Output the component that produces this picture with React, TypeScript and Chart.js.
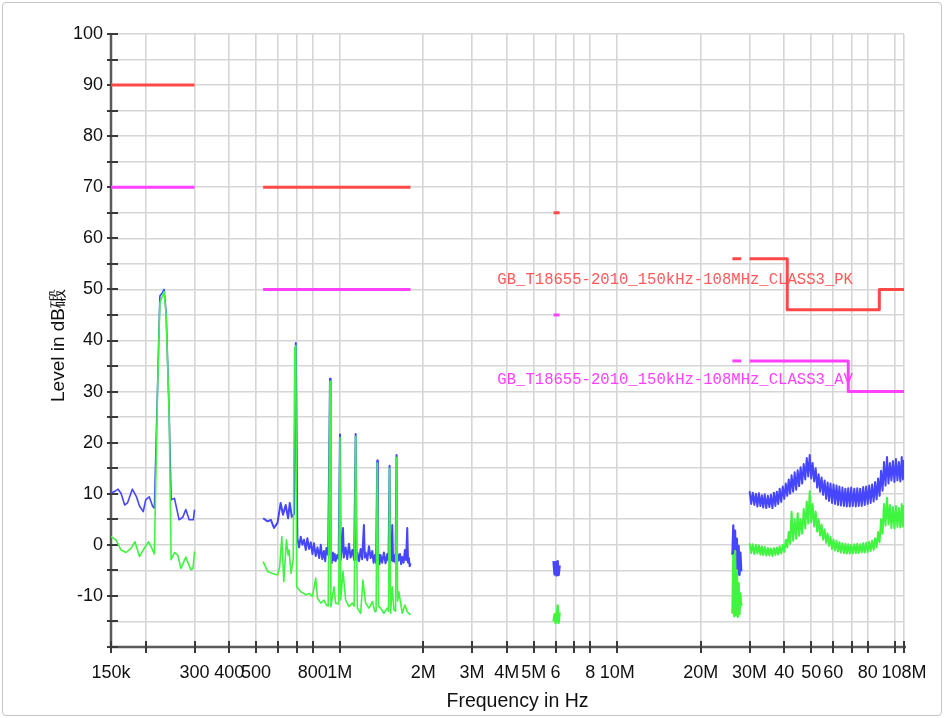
import React, { useEffect, useRef } from 'react';
import { Chart, registerables } from 'chart.js';

Chart.register(...registerables);

// ---------- axis ticks ----------
const X_TICKS_MHZ = [0.15, 0.2, 0.3, 0.4, 0.5, 0.6, 0.7, 0.8, 1, 2, 3, 4, 5, 6, 7, 8, 10, 20, 30, 40, 50, 60, 70, 80, 100, 108];
const X_TICK_LABELS = ['150k', '', '300', '400', '500', '', '', '800', '1M', '2M', '3M', '4M', '5M', '6', '', '8', '10M', '20M', '30M', '40', '50', '60', '', '80', '', '108M'];
const Y_MIN = -20;
const Y_MAX = 100;
const Y_STEP = 5;

// ---------- limit lines (MHz, dBµV) ----------
const PK_LIMIT_F = [[0.15, 0.3], [0.53, 1.8], [5.9, 6.2], [26, 28], [30, 41, 41, 88, 88, 108]];
const PK_LIMIT_V = [[90, 90], [70, 70], [65, 65], [56, 56], [56, 56, 46, 46, 50, 50]];
const AV_LIMIT_F = [[0.15, 0.3], [0.53, 1.8], [5.9, 6.2], [26, 28], [30, 68, 68, 108]];
const AV_LIMIT_V = [[70, 70], [50, 50], [45, 45], [36, 36], [36, 36, 30, 30]];
const PK_LIMIT_NAME = 'GB_T18655-2010_150kHz-108MHz_CLASS3_PK';
const AV_LIMIT_NAME = 'GB_T18655-2010_150kHz-108MHz_CLASS3_AV';

// ---------- measured traces ----------
// band 1 : 150 kHz - 300 kHz
const PEAK_F1 = [0.150, 0.156, 0.159, 0.163, 0.168, 0.172, 0.179, 0.185, 0.190, 0.196, 0.200, 0.206, 0.212, 0.215, 0.221, 0.225, 0.230, 0.233, 0.237, 0.243, 0.247, 0.254, 0.264, 0.272, 0.279, 0.287, 0.297, 0.300];
const PEAK_V1 = [10.1, 10.6, 10.9, 10.1, 7.8, 8.2, 10.9, 9.5, 7.6, 6.5, 8.8, 9.4, 7.5, 7.2, 32.0, 48.7, 49.4, 50.0, 45.5, 26.0, 8.8, 9.1, 4.9, 5.4, 6.9, 4.9, 4.9, 6.9];
const AVG_F1 = [0.150, 0.156, 0.163, 0.170, 0.177, 0.183, 0.190, 0.196, 0.205, 0.209, 0.215, 0.221, 0.225, 0.231, 0.233, 0.237, 0.243, 0.247, 0.254, 0.261, 0.268, 0.279, 0.291, 0.296, 0.300];
const AVG_V1 = [1.6, 1.0, -1.0, -1.5, -0.7, 0.6, -2.3, -1.0, 0.6, -0.3, -1.8, 31.5, 47.4, 49.0, 49.6, 45.0, 25.5, -2.9, -1.5, -2.0, -4.6, -2.4, -4.9, -4.6, -1.3];

// band 2 : 530 kHz - 1.8 MHz
const PEAK_F2 = [0.530, 0.550, 0.565, 0.580, 0.597, 0.613, 0.625, 0.639, 0.652, 0.661, 0.672, 0.685, 0.695, 0.704, 0.714, 0.724, 0.734, 0.744, 0.755, 0.765, 0.776, 0.787, 0.798, 0.808, 0.820, 0.832, 0.844, 0.855, 0.866, 0.878, 0.887, 0.896, 0.909, 0.923, 0.928, 0.936, 0.945, 0.954, 0.960, 0.967, 0.980, 0.992, 1.0025, 1.008, 1.017, 1.028, 1.035, 1.051, 1.065, 1.080, 1.095, 1.111, 1.128, 1.142, 1.150, 1.158, 1.175, 1.190, 1.205, 1.223, 1.232, 1.240, 1.258, 1.275, 1.293, 1.311, 1.325, 1.340, 1.353, 1.366, 1.373, 1.381, 1.392, 1.404, 1.423, 1.443, 1.463, 1.484, 1.500, 1.513, 1.520, 1.526, 1.537, 1.547, 1.557, 1.568, 1.590, 1.603, 1.610, 1.617, 1.634, 1.650, 1.665, 1.681, 1.700, 1.718, 1.735, 1.752, 1.764, 1.776, 1.788, 1.800];
const PEAK_V2 = [5.2, 4.6, 4.9, 3.3, 4.3, 8.2, 5.9, 7.8, 5.2, 8.2, 5.5, 6.0, 39.5, 1.3, -0.5, 1.6, 0.0, 1.0, -1.0, 1.3, -0.8, 0.5, -1.8, 0.3, -2.2, -0.5, -2.6, 0.0, -2.8, -1.2, -3.2, -0.6, -2.0, 32.5, -2.0, -3.6, -1.5, -3.0, -1.8, -3.2, -2.0, -2.8, 21.6, -3.0, -1.0, 3.3, -2.5, -0.5, -2.8, 0.2, -2.5, -1.0, -3.0, 21.7, -3.0, -1.5, -3.2, -0.8, -2.8, 3.9, -2.5, -1.5, -3.0, -0.3, -2.6, -1.2, -3.5, -2.0, -3.6, 16.5, -3.0, -1.8, -3.8, -2.0, -3.5, -1.5, -3.6, -1.8, -3.2, 15.5, -3.0, -1.5, -3.0, 3.9, -3.2, -2.0, -3.5, 17.6, -3.2, -1.8, -3.0, -1.8, -3.8, -2.4, -3.5, -1.0, -3.0, 3.3, -3.5, -2.6, -4.2, -3.6];
const AVG_F2 = [0.530, 0.550, 0.573, 0.597, 0.608, 0.619, 0.629, 0.643, 0.652, 0.657, 0.668, 0.680, 0.689, 0.695, 0.700, 0.724, 0.744, 0.755, 0.776, 0.798, 0.820, 0.832, 0.855, 0.878, 0.896, 0.909, 0.923, 0.930, 0.954, 0.967, 0.992, 1.0025, 1.0083, 1.028, 1.051, 1.080, 1.111, 1.128, 1.142, 1.158, 1.190, 1.213, 1.240, 1.275, 1.311, 1.340, 1.353, 1.366, 1.381, 1.404, 1.443, 1.484, 1.500, 1.513, 1.526, 1.547, 1.568, 1.590, 1.603, 1.617, 1.634, 1.681, 1.718, 1.752, 1.800];
const AVG_V2 = [-3.3, -5.2, -5.6, -5.9, -4.3, 1.6, -7.2, 1.0, -2.0, -1.0, -5.6, -3.0, 38.5, 39.0, -8.2, -9.2, -9.5, -9.8, -9.5, -10.1, -6.5, -10.5, -11.4, -10.8, -11.8, -12.0, 32.0, -12.1, -8.2, -11.4, -11.6, 21.0, -10.8, -5.2, -10.8, -12.1, -11.4, -12.0, 21.2, -12.4, -13.4, -6.9, -11.4, -12.4, -11.1, -13.1, -13.0, 16.0, -12.0, -12.4, -13.4, -12.4, -13.0, 15.0, -13.4, -8.2, -12.7, -13.0, 17.1, -11.0, -9.2, -13.4, -11.8, -13.1, -13.7];

// band 3 : 5.9 - 6.2 MHz
const F3 = [5.90, 5.95, 6.00, 6.05, 6.10, 6.15, 6.20];
const PEAK_V3 = [-3.2, -5.8, -3.4, -6.0, -3.2, -5.9, -4.0];
const AVG_V3 = [-15.0, -13.6, -15.3, -14.4, -11.9, -15.3, -13.2];

// band 4 : 26 - 28 MHz
const F4 = [26.0, 26.2, 26.4, 26.6, 26.8, 27.0, 27.2, 27.4, 27.6, 27.8, 28.0];
const PEAK_V4 = [-2.0, 3.8, -4.5, 2.8, -5.2, 1.2, -5.8, -0.2, -5.9, -1.5, -5.2];
const AVG_V4 = [-13.5, -2.0, -14.0, -1.2, -13.8, -5.0, -14.1, -7.5, -13.6, -9.5, -12.0];

// band 5 : 30 - 108 MHz
const F5 = [30, 30.4, 30.8, 31.2, 31.6, 32.0, 32.4, 32.8, 33.2, 33.6, 34.0, 34.45, 34.9, 35.35, 35.8, 36.25, 36.7, 37.15, 37.6, 38.05, 38.5, 39.0, 39.5, 40.0, 40.5, 41.0, 41.5, 42.0, 42.5, 43.05, 43.6, 44.15, 44.7, 45.25, 45.8, 46.4, 47.0, 47.6, 48.2, 48.8, 49.4, 50.0, 50.6, 51.25, 51.9, 52.55, 53.2, 53.85, 54.5, 55.2, 55.9, 56.6, 57.3, 58.0, 58.7, 59.45, 60.2, 60.95, 61.7, 62.45, 63.2, 64.0, 64.8, 65.6, 66.4, 67.2, 68.0, 68.85, 69.7, 70.6, 71.5, 72.4, 73.3, 74.2, 75.1, 76.05, 77.0, 77.95, 78.9, 79.9, 80.9, 81.9, 82.9, 83.95, 85.0, 86.05, 87.1, 88.2, 89.3, 90.4, 91.5, 92.65, 93.8, 94.95, 96.1, 97.3, 98.5, 99.75, 101.0, 102.25, 103.5, 104.75, 106.0, 107.0, 108.0];
const PEAK_V5 = [10.5, 8.0, 10.2, 7.8, 10.0, 7.5, 10.1, 7.6, 9.7, 7.3, 9.9, 7.2, 9.6, 7.4, 9.8, 7.2, 10.2, 7.6, 10.4, 8.0, 11.0, 8.4, 11.4, 9.0, 12.0, 9.6, 12.8, 10.0, 13.6, 10.4, 14.2, 10.8, 14.6, 11.5, 15.2, 12.0, 15.8, 12.8, 17.0, 13.4, 17.6, 13.0, 16.0, 12.4, 15.0, 11.2, 13.8, 10.4, 13.2, 9.8, 12.6, 9.0, 12.2, 8.6, 12.0, 8.2, 11.8, 8.0, 11.6, 7.8, 11.4, 7.7, 11.2, 7.6, 11.0, 7.5, 11.1, 7.5, 11.2, 7.6, 11.0, 7.5, 11.1, 7.6, 11.0, 7.6, 11.3, 7.8, 11.4, 8.0, 11.6, 8.2, 11.8, 8.5, 12.3, 8.9, 13.0, 9.6, 14.5, 10.6, 16.2, 11.6, 17.2, 12.0, 16.0, 12.6, 16.4, 12.3, 16.8, 12.6, 16.2, 12.4, 17.2, 12.8, 16.6];
const AVG_V5 = [0.3, -1.6, 0.1, -1.8, 0.0, -1.7, -0.1, -1.9, -0.3, -2.0, -0.4, -2.1, -0.6, -2.1, -0.7, -2.2, -0.6, -2.0, -0.5, -1.9, -0.3, -1.7, 0.0, -1.4, 1.0, -0.5, 2.5, 0.2, 6.5, 0.8, 5.0, 1.2, 6.2, 1.8, 5.0, 2.2, 7.0, 3.2, 8.5, 4.2, 10.5, 4.4, 8.0, 3.6, 6.5, 2.6, 5.0, 1.8, 4.0, 1.0, 3.0, 0.4, 2.2, -0.2, 1.6, -0.8, 1.0, -1.1, 0.8, -1.3, 0.5, -1.5, 0.3, -1.6, 0.2, -1.7, 0.1, -1.7, 0.0, -1.7, 0.1, -1.6, 0.2, -1.6, 0.1, -1.5, 0.3, -1.5, 0.4, -1.4, 0.6, -1.2, 0.8, -1.0, 1.3, -0.5, 2.5, 0.5, 5.0, 2.2, 8.0, 3.8, 9.2, 4.0, 7.8, 3.3, 7.4, 3.2, 7.6, 3.5, 7.2, 3.4, 8.0, 3.6, 7.8];

// annotation anchors (MHz, dBµV)
const LABEL_F = 3.7;
const PK_LABEL_V = 51.8;
const AV_LABEL_V = 32.2;

// ---------- styles ----------
const PEAK_COLOR = 'rgb(70,70,255)';
const AVG_COLOR = 'rgb(64,245,64)';
const PK_COLOR = 'rgb(255,72,72)';
const AV_COLOR = 'rgb(255,64,255)';
const GRID_COLOR = 'rgb(214,214,214)';
const SANS = '"Liberation Sans", Arial, sans-serif';

const pts = (f: number[], v: number[]) => f.map((x, i) => ({ x: x * 1e6, y: v[i] }));

const ds = (data: any[], color: string, width: number, order: number) => ({
  data,
  borderColor: color,
  backgroundColor: color,
  borderWidth: width,
  pointRadius: 0,
  tension: 0,
  fill: false,
  order,
  borderJoinStyle: 'round' as const,
  borderCapStyle: 'butt' as const,
});

const decor = {
  id: 'decor',
  beforeDatasetsDraw(chart: any) {
    const { ctx, chartArea, scales } = chart;
    const xs = scales.x;
    const ys = scales.y;
    ctx.save();
    ctx.strokeStyle = '#5a5a5a';
    ctx.lineWidth = 2.5;
    ctx.beginPath();
    ctx.moveTo(chartArea.left, chartArea.top - 1);
    ctx.lineTo(chartArea.left, chartArea.bottom);
    ctx.lineTo(chartArea.right + 2, chartArea.bottom);
    ctx.stroke();
    ctx.strokeStyle = '#3a3a3a';
    ctx.lineWidth = 2;
    ctx.beginPath();
    for (const t of ys.ticks) {
      const py = Math.round(ys.getPixelForValue(t.value));
      ctx.moveTo(chartArea.left - 4, py);
      ctx.lineTo(chartArea.left + 7, py);
    }
    for (const t of xs.ticks) {
      const px = Math.round(xs.getPixelForValue(t.value));
      ctx.moveTo(px, chartArea.bottom - 6);
      ctx.lineTo(px, chartArea.bottom + 6);
    }
    ctx.stroke();
    ctx.restore();
  },
  afterDatasetsDraw(chart: any) {
    const { ctx, chartArea, scales } = chart;
    const xs = scales.x;
    const ys = scales.y;
    ctx.save();
    ctx.font = '15.6px "Liberation Mono", monospace';
    ctx.textAlign = 'left';
    ctx.textBaseline = 'middle';
    const lx = xs.getPixelForValue(LABEL_F * 1e6);
    ctx.fillStyle = 'rgb(255,90,90)';
    ctx.fillText(PK_LIMIT_NAME, lx, ys.getPixelForValue(PK_LABEL_V));
    ctx.fillStyle = AV_COLOR;
    ctx.fillText(AV_LIMIT_NAME, lx, ys.getPixelForValue(AV_LABEL_V));

    ctx.fillStyle = '#111';
    ctx.font = '19.5px ' + SANS;
    ctx.textAlign = 'center';
    ctx.fillText('Frequency in Hz', (chartArea.left + chartArea.right) / 2 + 10, chartArea.bottom + 55);
    ctx.font = '19px ' + SANS;
    ctx.translate(59, (chartArea.top + chartArea.bottom) / 2 + 5);
    ctx.rotate(-Math.PI / 2);
    ctx.fillText('Level in dB碫', 0, 0);
    ctx.restore();
  },
};

export default function App() {
  const ref = useRef<HTMLCanvasElement | null>(null);

  useEffect(() => {
    if (!ref.current) return;
    const datasets: any[] = [];
    PK_LIMIT_F.forEach((f, i) => datasets.push(ds(pts(f, PK_LIMIT_V[i]), PK_COLOR, 3, 3)));
    AV_LIMIT_F.forEach((f, i) => datasets.push(ds(pts(f, AV_LIMIT_V[i]), AV_COLOR, 3, 3)));
    datasets.push(ds(pts(PEAK_F1, PEAK_V1), PEAK_COLOR, 1.6, 2));
    datasets.push(ds(pts(PEAK_F2, PEAK_V2), PEAK_COLOR, 2.0, 2));
    datasets.push(ds(pts(F3, PEAK_V3), PEAK_COLOR, 2.5, 2));
    datasets.push(ds(pts(F4, PEAK_V4), PEAK_COLOR, 2.2, 2));
    datasets.push(ds(pts(F5, PEAK_V5), PEAK_COLOR, 2.0, 2));
    datasets.push(ds(pts(AVG_F1, AVG_V1), AVG_COLOR, 1.6, 1));
    datasets.push(ds(pts(AVG_F2, AVG_V2), AVG_COLOR, 1.6, 1));
    datasets.push(ds(pts(F3, AVG_V3), AVG_COLOR, 2.5, 1));
    datasets.push(ds(pts(F4, AVG_V4), AVG_COLOR, 2.2, 1));
    datasets.push(ds(pts(F5, AVG_V5), AVG_COLOR, 2.0, 1));

    const chart = new Chart(ref.current, {
      type: 'line',
      data: { datasets },
      plugins: [decor],
      options: {
        animation: false,
        responsive: false,
        devicePixelRatio: 1,
        layout: { padding: { top: 34, right: 40, left: 0, bottom: 0 } },
        plugins: { legend: { display: false }, tooltip: { enabled: false }, title: { display: false } },
        scales: {
          x: {
            type: 'logarithmic',
            min: 150e3,
            max: 108e6,
            afterBuildTicks: (s: any) => {
              s.ticks = X_TICKS_MHZ.map((v) => ({ value: v * 1e6 }));
            },
            afterFit: (s: any) => {
              s.height = 71;
            },
            grid: { color: GRID_COLOR, lineWidth: 1.6, drawTicks: false },
            border: { display: false },
            ticks: {
              autoSkip: false,
              maxRotation: 0,
              minRotation: 0,
              padding: 15,
              color: '#111',
              font: { family: SANS, size: 18 },
              callback: (_v: any, i: number) => X_TICK_LABELS[i] ?? '',
            },
          },
          y: {
            type: 'linear',
            min: Y_MIN,
            max: Y_MAX,
            afterFit: (s: any) => {
              s.width = 111;
            },
            grid: { color: GRID_COLOR, lineWidth: 1.6, drawTicks: false },
            border: { display: false },
            ticks: {
              stepSize: Y_STEP,
              autoSkip: false,
              padding: 8,
              color: '#111',
              font: { family: SANS, size: 18 },
              callback: (v: any) => (Number(v) % 10 === 0 && Number(v) > Y_MIN ? String(v) : ''),
            },
          },
        },
      },
    });
    return () => chart.destroy();
  }, []);

  return (
    <div style={{ position: 'fixed', left: 0, top: 0, width: 944, height: 718, background: '#fff' }}>
      <canvas ref={ref} width={944} height={718} style={{ display: 'block', position: 'absolute', left: 0, top: 0 }} />
      <div
        style={{
          position: 'absolute',
          left: 2,
          top: 2,
          width: 938,
          height: 712,
          border: '1px solid #c4c4c4',
          borderRadius: 4,
          pointerEvents: 'none',
        }}
      />
    </div>
  );
}
